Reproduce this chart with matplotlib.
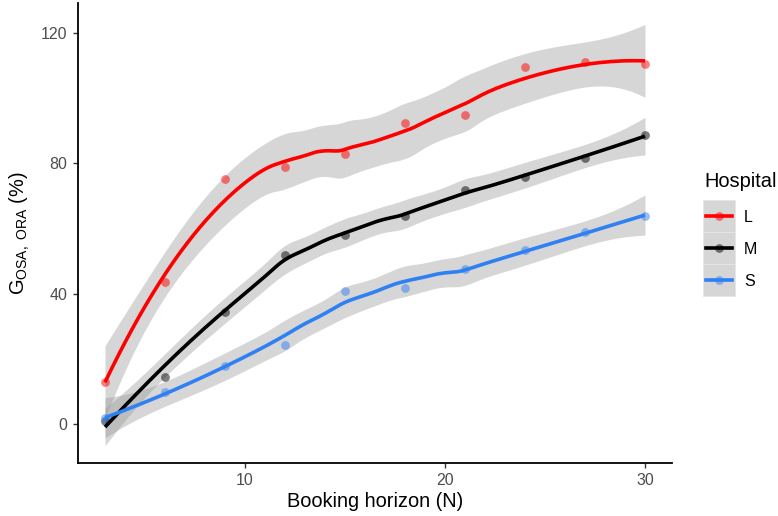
import math
import numpy as np
import matplotlib
matplotlib.use("Agg")
import matplotlib.pyplot as plt
from matplotlib.lines import Line2D
from matplotlib.patches import Rectangle

plt.rcParams["font.family"] = ["Liberation Sans", "DejaVu Sans"]
plt.rcParams["mathtext.fontset"] = "custom"
plt.rcParams["mathtext.rm"] = "Liberation Sans"
plt.rcParams["mathtext.it"] = "Liberation Sans:italic"
plt.rcParams["mathtext.bf"] = "Liberation Sans:bold"

# ---- data -------------------------------------------------------------
horizon = [3, 6, 9, 12, 15, 18, 21, 24, 27, 30]
hospitals = ["L", "M", "S"]
gain_L = [13.0, 43.6, 75.1, 78.9, 82.8, 92.5, 94.8, 109.5, 111.2, 110.6]
gain_M = [0.8, 14.3, 34.4, 52.0, 57.9, 63.8, 71.8, 75.7, 81.6, 88.7]
gain_S = [1.7, 9.7, 17.7, 24.3, 40.9, 41.8, 47.6, 53.4, 58.8, 63.9]
colors = {"L": "#FF0000", "M": "#000000", "S": "#2F80F2"}
series = {"L": gain_L, "M": gain_M, "S": gain_S}


# ---- local quadratic regression (loess, span 0.75) with 95% band -------
def loess_operator(x, xs, span=0.75, degree=2):
    n = len(x)
    q = int(math.floor(n * span))
    L = np.zeros((len(xs), n))
    for k, x0 in enumerate(xs):
        d = np.abs(x - x0)
        h = np.sort(d)[q - 1]
        u = np.clip(d / h, 0, 1)
        w = (1 - u ** 3) ** 3
        X = np.vander(x - x0, degree + 1, increasing=True)
        W = np.diag(w)
        A = X.T @ W @ X
        L[k] = (np.linalg.pinv(A) @ X.T @ W)[0]
    return L


def t_quantile(p, df):
    t = np.linspace(0, 60, 600001)
    c = math.lgamma((df + 1) / 2) - math.lgamma(df / 2) - 0.5 * math.log(df * math.pi)
    pdf = np.exp(c - (df + 1) / 2 * np.log1p(t ** 2 / df))
    cdf = 0.5 + np.concatenate([[0], np.cumsum((pdf[1:] + pdf[:-1]) / 2 * np.diff(t))])
    return float(np.interp(p, cdf, t))


def smooth(x, y, xs):
    x = np.asarray(x, float)
    y = np.asarray(y, float)
    Lfit = loess_operator(x, x)
    R = np.eye(len(x)) - Lfit
    RR = R.T @ R
    d1 = np.trace(RR)
    d2 = np.trace(RR @ RR)
    s = math.sqrt(np.sum((R @ y) ** 2) / d1)
    Lp = loess_operator(x, xs)
    fit = Lp @ y
    se = s * np.sqrt(np.sum(Lp ** 2, axis=1))
    tq = t_quantile(0.975, d1 ** 2 / d2)
    return fit, fit - tq * se, fit + tq * se


# ---- figure -------------------------------------------------------------
W, H = 778, 516
fig = plt.figure(figsize=(W / 100, H / 100), dpi=100)
ax = fig.add_axes([78 / W, 1 - 463 / H, (672 - 78) / W, (463 - 3) / H])

xs = np.linspace(min(horizon), max(horizon), 160)
for h in hospitals:
    fit, lo, hi = smooth(horizon, series[h], xs)
    ax.fill_between(xs, lo, hi, color="#999999", alpha=0.4, linewidth=0, zorder=1)
    ax.scatter(horizon, series[h], s=40, color=colors[h], alpha=0.5,
               linewidths=0, zorder=2)
    ax.plot(xs, fit, color=colors[h], lw=2.6, zorder=3, solid_capstyle="butt")

ax.set_xlim(1.65, 31.35)
ax.set_ylim(-12.0, 129.2)
ax.set_xticks([10, 20, 30])
ax.set_yticks([0, 40, 80, 120])

for side in ["top", "right"]:
    ax.spines[side].set_visible(False)
for side in ["left", "bottom"]:
    ax.spines[side].set_linewidth(1.3)
    ax.spines[side].set_color("black")
ax.tick_params(axis="both", length=3.4, width=1.0, color="#333333",
               labelsize=11.5, labelcolor="#4D4D4D")
ax.tick_params(axis="y", pad=4.5)
ax.tick_params(axis="x", pad=3.5)

ax.set_xlabel("Booking horizon (N)", fontsize=14.4, color="black", labelpad=3)
ax.set_ylabel(r"G$_{\mathrm{OSA,\ ORA}}$ (%)", fontsize=14.4, color="black", labelpad=6)

# ---- legend -------------------------------------------------------------
fig.text(704 / W, 1 - 187 / H, "Hospital", fontsize=14.4, ha="left",
         va="baseline")
key_left, key_w, key_h, key_top = 703, 32, 32, 200
for i, h in enumerate(hospitals):
    top = key_top + i * key_h
    fig.patches.append(Rectangle((key_left / W, 1 - (top + key_h) / H), key_w / W,
                                 key_h / H, transform=fig.transFigure,
                                 facecolor="#D6D6D6", edgecolor="#E6E6E6", lw=0.6))
    yc = 1 - (top + key_h / 2) / H
    fig.lines.append(Line2D([(key_left + 3) / W, (key_left + key_w - 3) / W], [yc, yc],
                            transform=fig.transFigure, color=colors[h], lw=2.6))
    fig.lines.append(Line2D([(key_left + key_w / 2) / W], [yc], transform=fig.transFigure,
                            marker="o", markersize=6.3, color=colors[h], alpha=0.5,
                            markeredgewidth=0, linestyle="none"))
    fig.text((key_left + key_w + 9) / W, yc, h, fontsize=11.5, ha="left",
             va="center_baseline")

fig.savefig("out.png", dpi=100)
